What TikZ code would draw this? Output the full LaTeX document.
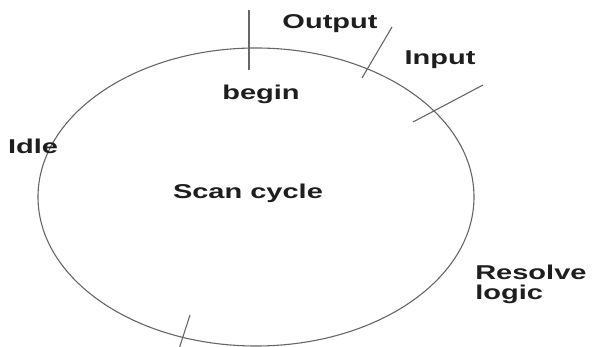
\documentclass[tikz,border=0pt]{standalone}
\usepackage{fontspec}
\setmainfont{Liberation Sans}
\usepackage{tikz}
\usetikzlibrary{shapes.geometric, positioning}
\definecolor{linegray}{HTML}{666666}
\definecolor{textdark}{HTML}{1E1E1E}
\tikzstyle{cycle} = [ellipse, draw=linegray, line width=1.1pt, minimum width=436pt, minimum height=298pt, inner sep=0pt]
\tikzstyle{stagetext} = [font=\bfseries\fontsize{20}{20}\selectfont, text=textdark, xscale=1.45, inner sep=0pt]
\tikzstyle{tick} = [draw=linegray, line width=1.1pt]

\begin{document}
\begin{tikzpicture}[x=1pt, y=-1pt]
    \useasboundingbox (0,0) rectangle (592,347);
    \node (cycle) [cycle] at (256,197) {};
    \node (scan) [stagetext] at (248,193) {Scan cycle};

    \node (begin) [stagetext] at (261,94) {begin};
    \node (output) [stagetext] at (330,24) {Output};
    \node (input) [stagetext] at (440,60) {Input};
    \node (idle) [stagetext] at (33,146) {Idle};
    \node (resolve) [stagetext, anchor=north west, align=left] at (475,265) {Resolve\\logic};

    \coordinate (begintop) at (249,10);
    \coordinate (beginend) at (249,70);
    \coordinate (outputtop) at (392,27);
    \coordinate (outputend) at (362,78);
    \coordinate (inputtop) at (483,85);
    \coordinate (inputend) at (413,122);
    \coordinate (idletop) at (190,315);
    \coordinate (idleend) at (179,349);

    \draw [tick] (begintop) -- (beginend);
    \draw [tick] (outputtop) -- (outputend);
    \draw [tick] (inputtop) -- (inputend);
    \draw [tick] (idletop) -- (idleend);
\end{tikzpicture}
\end{document}
